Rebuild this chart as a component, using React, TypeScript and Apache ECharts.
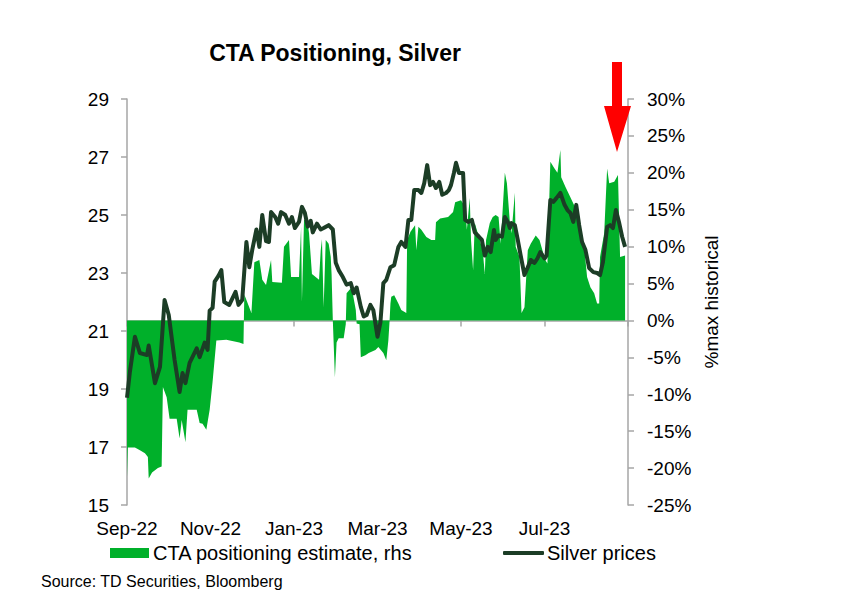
import React, { useEffect, useRef } from "react";
import * as echarts from "echarts";

// x positions: months since 1 Sep 2022
const xTickLabels = ["Sep-22", "Nov-22", "Jan-23", "Mar-23", "May-23", "Jul-23", ""];

const silverT = [
  0.0, 0.07, 0.19, 0.31, 0.48, 0.52, 0.67, 0.79, 0.9, 1.0, 1.14, 1.26, 1.33, 1.4, 1.5, 1.67, 1.74, 1.86, 1.93, 1.98,
  2.05, 2.1, 2.19, 2.26, 2.33, 2.45, 2.6, 2.67, 2.76, 2.86, 2.93, 3.0, 3.1, 3.17, 3.24, 3.33, 3.4, 3.45, 3.55, 3.62,
  3.69, 3.79, 3.88, 3.95, 4.02, 4.12, 4.19, 4.26, 4.33, 4.4, 4.45, 4.55, 4.64, 4.71, 4.83, 4.93, 5.0, 5.07, 5.17, 5.26,
  5.36, 5.43, 5.5, 5.6, 5.67, 5.74, 5.83, 5.9, 6.0, 6.07, 6.14, 6.21, 6.31, 6.4, 6.5, 6.57, 6.67, 6.74, 6.81, 6.88,
  6.98, 7.05, 7.12, 7.19, 7.26, 7.33, 7.4, 7.48, 7.55, 7.64, 7.71, 7.76, 7.83, 7.88, 7.95, 8.05, 8.1, 8.17, 8.26, 8.33,
  8.43, 8.5, 8.57, 8.64, 8.71, 8.79, 8.83, 8.9, 8.98, 9.05, 9.12, 9.17, 9.21, 9.29, 9.36, 9.43, 9.52, 9.6, 9.67, 9.76,
  9.83, 9.9, 10.0, 10.05, 10.14, 10.21, 10.29, 10.38, 10.48, 10.55, 10.62, 10.69, 10.76, 10.83, 10.9, 10.98, 11.07,
  11.17, 11.26, 11.33, 11.4, 11.5, 11.57, 11.64, 11.71, 11.79, 11.86, 11.93,
];
const silverPrices = [
  18.7, 19.6, 20.8, 20.24, 20.17, 20.5, 19.2, 19.76, 22.07, 21.55, 20.0, 18.9, 19.55, 19.2, 19.9, 20.4, 20.1, 20.6, 20.35, 21.7,
  21.8, 22.7, 22.9, 23.1, 22.0, 21.9, 22.35, 21.9, 22.07, 24.07, 23.2, 23.8, 24.5, 23.9, 25.0, 24.1, 24.07, 25.1, 24.93, 24.7,
  25.1, 25.0, 24.7, 24.93, 24.55, 24.76, 25.28, 25.07, 24.6, 24.8, 24.4, 24.7, 24.5, 24.55, 24.65, 24.5, 23.35, 23.1, 22.86, 22.6,
  22.65, 22.3, 22.5, 21.83, 21.5, 21.55, 21.9, 21.72, 20.8, 21.3, 22.65, 22.76, 23.2, 23.27, 23.9, 24.07, 23.9, 24.83, 24.83, 25.86,
  25.86, 25.76, 26.1, 26.72, 26.03, 26.14, 25.93, 26.14, 25.7, 25.76, 25.86, 26.03, 26.45, 26.8, 26.45, 26.45, 24.83, 24.76, 24.83, 24.4,
  24.25, 24.14, 23.6, 23.9, 23.72, 24.48, 24.14, 24.3, 24.25, 24.93, 24.76, 24.55, 24.72, 24.65, 24.14, 23.6, 22.93, 23.2, 23.45, 23.35,
  23.5, 23.72, 23.5, 23.6, 25.52, 25.45, 25.59, 25.76, 25.35, 25.17, 25.07, 24.76, 25.35, 24.65, 24.07, 23.8, 23.17,
  23.03, 23.0, 22.93, 23.38, 24.59, 24.65, 24.55, 25.17, 24.72, 24.25, 23.9,
];

const ctaT = [
  0.0, 0.02, 0.19, 0.31, 0.43, 0.5, 0.52, 0.6, 0.74, 0.83, 0.86, 0.95, 1.02, 1.19, 1.26, 1.31, 1.4, 1.45, 1.67, 1.74,
  1.81, 1.9, 1.98, 2.05, 2.14, 2.38, 2.69, 2.79, 2.81, 2.98, 3.05, 3.17, 3.24, 3.33, 3.45, 3.48, 3.71, 3.76, 3.88, 3.93,
  4.12, 4.17, 4.19, 4.24, 4.31, 4.36, 4.43, 4.6, 4.64, 4.67, 4.71, 4.76, 4.83, 4.88, 4.9, 4.93, 4.98, 5.02, 5.07, 5.19,
  5.24, 5.26, 5.38, 5.48, 5.5, 5.57, 5.6, 5.71, 5.79, 5.95, 6.02, 6.14, 6.21, 6.26, 6.29, 6.31, 6.33, 6.4, 6.5, 6.57,
  6.69, 6.71, 6.79, 6.9, 6.93, 6.98, 7.05, 7.17, 7.29, 7.38, 7.4, 7.5, 7.69, 7.81, 7.86, 8.0, 8.1, 8.14, 8.21, 8.24,
  8.29, 8.33, 8.45, 8.52, 8.57, 8.6, 8.69, 8.76, 8.83, 8.9, 8.95, 9.05, 9.1, 9.17, 9.21, 9.29, 9.31, 9.4, 9.45, 9.52,
  9.6, 9.67, 9.79, 9.88, 9.95, 10.02, 10.07, 10.14, 10.24, 10.31, 10.38, 10.4, 10.5, 10.62, 10.71, 10.79, 10.86, 10.95,
  11.02, 11.1, 11.19, 11.26, 11.31, 11.33, 11.43, 11.5, 11.55, 11.67, 11.76, 11.81, 11.93,
];
const ctaPositioning = [
  -21.2, -17.2, -17.2, -17.6, -18.0, -18.5, -21.4, -20.6, -20.0, -19.8, -9.0, -10.4, -13.3, -13.3, -16.0, -13.5, -16.5, -12.1, -12.1, -13.9,
  -14.0, -14.8, -12.1, -8.3, -2.7, -2.6, -3.0, -3.2, 3.5, 1.0, 7.9, 8.2, 5.5, 4.8, 8.2, 5.2, 5.1, 10.0, 10.9, 5.9,
  5.9, 12.7, 2.5, 13.6, 13.9, 11.8, 6.3, 5.5, 9.5, 11.0, 1.8, 10.9, 10.4, 8.6, 6.3, 0, -7.7, -3.0, -2.4, -2.4,
  -0.5, 3.7, 4.5, 1.4, -0.4, -0.5, -5.0, -4.7, -4.4, -4.0, -3.6, -4.4, -5.4, -2.7, 0, 2.3, 3.2, 3.4, 2.3, 1.4,
  1.0, 10.9, 12.0, 12.9, 9.5, 12.7, 12.3, 11.3, 10.9, 10.9, 13.3, 13.8, 14.0, 14.7, 16.0, 16.3, 15.4, 12.3, 16.6, 10.9,
  6.8, 13.2, 10.9, 9.5, 6.3, 10.9, 13.2, 14.0, 14.3, 14.0, 10.4, 20.0, 18.6, 13.3, 11.8, 17.3, 10.0, 8.6, 1.0, 1.8,
  9.5, 10.4, 11.5, 10.9, 9.5, 8.2, 7.7, 21.5, 20.6, 20.0, 23.1, 19.4, 18.1, 16.7, 15.6, 14.0, 10.9, 10.0,
  5.9, 4.5, 3.7, 2.3, 2.3, 8.6, 11.8, 20.6, 18.6, 18.8, 19.7, 8.6, 8.8,
];

const FONT = "Liberation Sans, Arial, sans-serif";
const GREEN = "#00B02A";
const DARK = "#1C3D26";
const AXIS = "#A6A6A6";
const TICK_FS = 19;

export default function App() {
  const ref = useRef<HTMLDivElement>(null);
  useEffect(() => {
    if (!ref.current) return;
    const chart = echarts.init(ref.current, undefined, { renderer: "svg" });
    const silverData = silverT.map((t, i) => [t, silverPrices[i]]);
    const ctaData = ctaT.map((t, i) => [t, ctaPositioning[i]]);
    chart.setOption({
      animation: false,
      backgroundColor: "#ffffff",
      textStyle: { fontFamily: FONT },
      grid: { left: 127, right: 220, top: 99, bottom: 104, containLabel: false },
      legend: [
        {
          left: 110,
          top: 543,
          padding: 0,
          data: [{ name: "CTA positioning estimate, rhs", icon: "rect" }],
          itemWidth: 39,
          itemHeight: 10,
          textStyle: { fontSize: 20, color: "#000", fontFamily: FONT, padding: [0, 0, 0, -1] },
          selectedMode: false,
        },
        {
          left: 503,
          top: 543,
          padding: 0,
          data: [{ name: "Silver prices", icon: "roundRect" }],
          itemWidth: 41,
          itemHeight: 4,
          textStyle: { fontSize: 20, color: "#000", fontFamily: FONT, padding: [0, 0, 0, -2] },
          selectedMode: false,
        },
      ],
      xAxis: {
        type: "value",
        min: 0,
        max: 12,
        interval: 2,
        axisLine: { lineStyle: { color: AXIS, width: 1.5 } },
        axisTick: { inside: false, length: 6, lineStyle: { color: AXIS, width: 1.5 } },
        axisLabel: {
          formatter: (v: number) => xTickLabels[Math.round(v / 2)] ?? "",
          fontSize: TICK_FS,
          color: "#000",
          margin: 14,
          fontFamily: FONT,
        },
        splitLine: { show: false },
      },
      yAxis: [
        {
          type: "value",
          min: 15,
          max: 29,
          interval: 2,
          position: "left",
          axisLine: { show: true, lineStyle: { color: AXIS, width: 1.5 } },
          axisTick: { show: true, length: 6, lineStyle: { color: AXIS, width: 1.5 } },
          axisLabel: { fontSize: TICK_FS, color: "#000", margin: 18, fontFamily: FONT },
          splitLine: { show: false },
        },
        {
          type: "value",
          min: -25,
          max: 30,
          interval: 5,
          position: "right",
          name: "%max historical",
          nameLocation: "middle",
          nameRotate: 90,
          nameGap: 72,
          nameTextStyle: { fontSize: TICK_FS, color: "#000", fontFamily: FONT },
          axisLine: { show: true, lineStyle: { color: AXIS, width: 1.5 } },
          axisTick: { show: true, length: 6, lineStyle: { color: AXIS, width: 1.5 } },
          axisLabel: { fontSize: TICK_FS, color: "#000", margin: 19, formatter: "{value}%", fontFamily: FONT },
          splitLine: { show: false },
        },
      ],
      series: [
        {
          name: "CTA positioning estimate, rhs",
          type: "line",
          yAxisIndex: 1,
          data: ctaData,
          showSymbol: false,
          symbol: "none",
          color: GREEN,
          lineStyle: { width: 0, color: GREEN },
          areaStyle: { color: GREEN, opacity: 1, origin: 0 },
          z: 1,
        },
        {
          name: "Silver prices",
          type: "line",
          yAxisIndex: 0,
          data: silverData,
          showSymbol: false,
          symbol: "none",
          color: DARK,
          lineStyle: { width: 4, color: DARK, join: "round" },
          z: 3,
        },
      ],
      graphic: [
        {
          type: "text",
          x: 335,
          y: 53,
          style: {
            text: "CTA Positioning, Silver",
            font: `bold 23px ${FONT}`,
            fill: "#000",
            textAlign: "center",
            textVerticalAlign: "middle",
          },
        },
        {
          type: "polygon",
          shape: {
            points: [
              [612, 62],
              [622, 62],
              [622, 106],
              [631, 106],
              [617, 152],
              [604, 106],
              [612, 106],
            ],
          },
          style: { fill: "#FF0000" },
          z: 10,
        },
        {
          type: "text",
          x: 41,
          y: 581,
          style: {
            text: "Source: TD Securities, Bloomberg",
            font: `16px ${FONT}`,
            fill: "#000",
            textVerticalAlign: "middle",
          },
        },
      ],
    });
    return () => chart.dispose();
  }, []);
  return (
    <div
      ref={ref}
      style={{ position: "fixed", left: 0, top: 0, width: 848, height: 609, background: "#fff" }}
    />
  );
}
